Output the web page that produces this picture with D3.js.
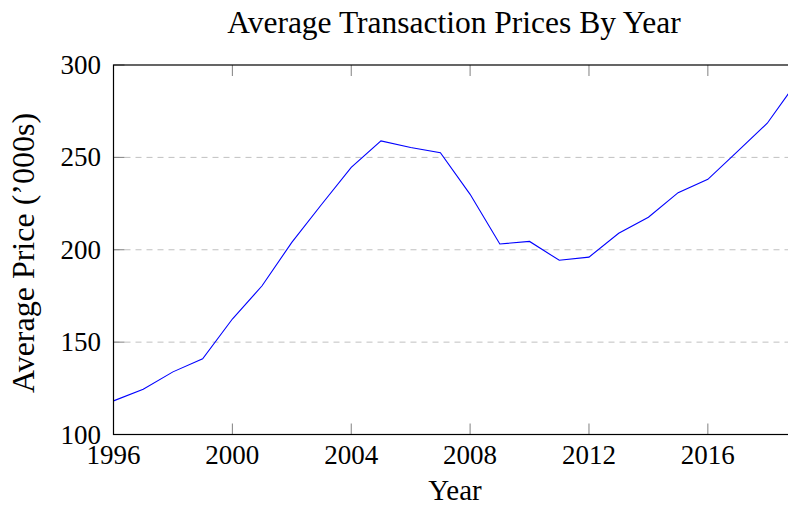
<!DOCTYPE html>
<html><head><meta charset="utf-8">
<script src="https://cdn.jsdelivr.net/npm/d3@7"></script>
<style>html,body{margin:0;padding:0;background:#fff;overflow:hidden}</style>
</head><body>
<svg id="chart" width="788" height="506"></svg>
<script>
const years = [1996,1997,1998,1999,2000,2001,2002,2003,2004,2005,2006,2007,2008,2009,2010,2011,2012,2013,2014,2015,2016,2017,2018,2019];
const prices = [118.2,124.5,133.9,141,162.5,180.5,204,224.5,244.6,258.9,255.3,252.5,230,203.1,204.5,194.3,196,208.9,217.6,230.9,238.1,253.3,268.5,291];
const xTicks = [1996,2000,2004,2008,2012,2016];
const yTicks = [100,150,200,250,300];
const gridVals = [150,200,250];

const svg = d3.select("#chart");
const font = "'Liberation Serif', 'Times New Roman', serif";
const L = 113.5, T = 65, B = 434.5, R = 797;
const x = d3.scaleLinear().domain([1996,2019]).range([L,R]);
const y = d3.scaleLinear().domain([100,300]).range([B,T]);

// grid
svg.append("g").selectAll("line").data(gridVals).join("line")
  .attr("x1",L).attr("x2",R).attr("y1",d=>y(d)).attr("y2",d=>y(d))
  .attr("stroke","#c0c0c0").attr("stroke-width",1).attr("stroke-dasharray","6,5");

// ticks inside (gray)
const tk = svg.append("g").attr("stroke","#808080").attr("stroke-width",1);
xTicks.forEach(v=>{
  tk.append("line").attr("x1",x(v)).attr("x2",x(v)).attr("y1",B).attr("y2",B-11);
  tk.append("line").attr("x1",x(v)).attr("x2",x(v)).attr("y1",T).attr("y2",T+11);
});
yTicks.forEach(v=>{
  tk.append("line").attr("x1",L).attr("x2",L+11).attr("y1",y(v)).attr("y2",y(v));
});

// line
const line = d3.line().x((d,i)=>x(years[i])).y(d=>y(d));
svg.append("path").datum(prices).attr("d",line).attr("fill","none")
  .attr("stroke","#0000ff").attr("stroke-width",1.1);

// frame
svg.append("rect").attr("x",L).attr("y",T).attr("width",R-L).attr("height",B-T)
  .attr("fill","none").attr("stroke","#000").attr("stroke-width",1.2);

// tick labels
svg.append("g").selectAll("text").data(xTicks).join("text")
  .attr("x",d=>x(d)).attr("y",464).attr("text-anchor","middle")
  .attr("font-family",font).attr("font-size",27).attr("fill","#000").text(d=>d);
svg.append("g").selectAll("text").data(yTicks).join("text")
  .attr("x",101).attr("y",d=>y(d)+9).attr("text-anchor","end")
  .attr("font-family",font).attr("font-size",27).attr("fill","#000").text(d=>d);

// titles
svg.append("text").attr("x",454).attr("y",33).attr("text-anchor","middle")
  .attr("font-family",font).attr("font-size",31.5).attr("fill","#000")
  .text("Average Transaction Prices By Year");
svg.append("text").attr("x",455).attr("y",500).attr("text-anchor","middle")
  .attr("font-family",font).attr("font-size",29).attr("fill","#000").text("Year");
svg.append("text").attr("transform","translate(34,253) rotate(-90)").attr("text-anchor","middle")
  .attr("font-family",font).attr("font-size",32).attr("fill","#000")
  .text("Average Price (\u2019000s)");
</script>
</body></html>
